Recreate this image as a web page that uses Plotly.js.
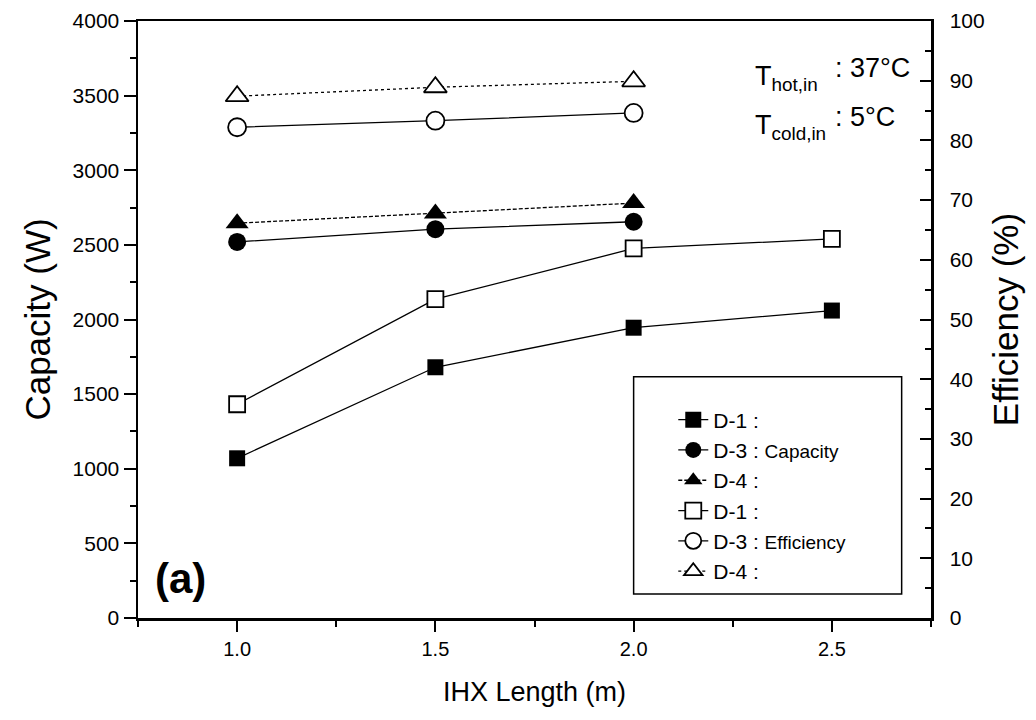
<!DOCTYPE html>
<html>
<head>
<meta charset="utf-8">
<script src="https://cdn.plot.ly/plotly-3.0.1.min.js"></script>
<style>
  html, body { margin: 0; padding: 0; background: #ffffff; }
  #chart { width: 1036px; height: 720px; }
</style>
</head>
<body>
<div id="chart"></div>
<script>
// IHX length (m)
const ihxLength = [1.0, 1.5, 2.0, 2.5];
const ihxLengthShort = [1.0, 1.5, 2.0];

// Capacity (W), left axis
const capacityD1 = [1070, 1680, 1945, 2060];
const capacityD3 = [2520, 2605, 2655];
const capacityD4 = [2645, 2710, 2780];

// Efficiency (%), right axis
const efficiencyD1 = [35.8, 53.4, 61.9, 63.5];
const efficiencyD3 = [82.2, 83.3, 84.6];
const efficiencyD4 = [87.4, 88.9, 89.9];

const xTickVals = [1.0, 1.5, 2.0, 2.5];
const xTickText = ['1.0', '1.5', '2.0', '2.5'];

const FONT = 'Liberation Sans, Arial, Helvetica, sans-serif';
const INK = '#000000';

function series(x, y, name, symbol, filled, dash, axis, size) {
  return {
    type: 'scatter',
    mode: 'lines+markers',
    x: x,
    y: y,
    name: name,
    yaxis: axis,
    line: { color: INK, width: 1.3, dash: dash },
    marker: {
      symbol: symbol,
      size: size,
      color: filled ? INK : '#ffffff',
      line: { color: INK, width: filled ? 0 : 1.8 }
    },
    cliponaxis: false
  };
}

const capLbl = "<span style='font-size:19px'>Capacity</span>";
const effLbl = "<span style='font-size:19px'>Efficiency</span>";

const traces = [
  series(ihxLength, capacityD1, 'D-1 :', 'square', true, 'solid', 'y', 16),
  series(ihxLengthShort, capacityD3, 'D-3 : ' + capLbl, 'circle', true, 'solid', 'y', 18),
  series(ihxLengthShort, capacityD4, 'D-4 :', 'triangle-up', true, '4px,2px', 'y', 20),
  series(ihxLength, efficiencyD1, 'D-1 :', 'square', false, 'solid', 'y2', 16),
  series(ihxLengthShort, efficiencyD3, 'D-3 : ' + effLbl, 'circle', false, 'solid', 'y2', 18),
  series(ihxLengthShort, efficiencyD4, 'D-4 :', 'triangle-up', false, 'dot', 'y2', 20)
];

const layout = {
  width: 1036,
  height: 720,
  margin: { l: 138, r: 105, t: 21, b: 102 },
  paper_bgcolor: '#ffffff',
  plot_bgcolor: '#ffffff',
  font: { family: FONT, color: INK, size: 20 },
  showlegend: true,
  legend: {
    x: 0.675, y: 0.366, xanchor: 'left', yanchor: 'top',
    bgcolor: 'rgba(0,0,0,0)',
    borderwidth: 0,
    font: { family: FONT, size: 21, color: INK },
    tracegroupgap: 0
  },
  xaxis: {
    range: [0.75, 2.75],
    tickvals: xTickVals,
    ticktext: xTickText,
    ticks: 'outside', ticklen: 11, tickwidth: 2, tickcolor: INK,
    minor: { dtick: 0.25, ticks: 'outside', ticklen: 6, tickwidth: 2, tickcolor: INK },
    showline: true, linecolor: INK, linewidth: 2.5, mirror: true,
    showgrid: false, zeroline: false,
    tickfont: { size: 20, family: FONT },
    title: { text: 'IHX Length (m)', font: { size: 27, family: FONT }, standoff: 24 }
  },
  yaxis: {
    range: [0, 4000],
    dtick: 500,
    ticks: 'outside', ticklen: 12, tickwidth: 2, tickcolor: INK,
    minor: { dtick: 250, ticks: 'outside', ticklen: 6, tickwidth: 2, tickcolor: INK },
    showline: true, linecolor: INK, linewidth: 2.5, mirror: false,
    showgrid: false, zeroline: false,
    tickfont: { size: 21, family: FONT },
    title: { text: 'Capacity (W)', font: { size: 35, family: FONT }, standoff: 12 }
  },
  yaxis2: {
    range: [0, 100],
    dtick: 10,
    overlaying: 'y',
    side: 'right',
    ticks: 'inside', ticklen: 11, tickwidth: 2, tickcolor: INK,
    minor: { dtick: 5, ticks: 'inside', ticklen: 6, tickwidth: 2, tickcolor: INK },
    showline: true, linecolor: INK, linewidth: 2.5,
    showgrid: false, zeroline: false,
    ticklabelstandoff: 12,
    tickfont: { size: 21, family: FONT },
    title: { text: 'Efficiency (%)', font: { size: 35, family: FONT }, standoff: 10 }
  },
  shapes: [
    {
      type: 'rect', xref: 'paper', yref: 'paper',
      x0: 0.625, x1: 0.963, y0: 0.040, y1: 0.404,
      line: { color: INK, width: 1.5 }, fillcolor: 'rgba(0,0,0,0)'
    }
  ],
  annotations: [
    {
      text: '<b>(a)</b>', xref: 'paper', yref: 'paper',
      x: 0.054, y: 0.067, xanchor: 'center', yanchor: 'middle',
      showarrow: false, font: { size: 42, family: FONT, color: INK }
    },
    {
      text: 'T<sub>hot,in</sub>', xref: 'paper', yref: 'paper',
      x: 0.776, y: 0.905, xanchor: 'left', yanchor: 'middle',
      showarrow: false, font: { size: 27, family: FONT, color: INK }
    },
    {
      text: ': 37\u00B0C', xref: 'paper', yref: 'paper',
      x: 0.877, y: 0.922, xanchor: 'left', yanchor: 'middle',
      showarrow: false, font: { size: 27, family: FONT, color: INK }
    },
    {
      text: 'T<sub>cold,in</sub>', xref: 'paper', yref: 'paper',
      x: 0.776, y: 0.822, xanchor: 'left', yanchor: 'middle',
      showarrow: false, font: { size: 27, family: FONT, color: INK }
    },
    {
      text: ': 5\u00B0C', xref: 'paper', yref: 'paper',
      x: 0.877, y: 0.839, xanchor: 'left', yanchor: 'middle',
      showarrow: false, font: { size: 27, family: FONT, color: INK }
    }
  ]
};

Plotly.newPlot('chart', traces, layout, { displayModeBar: false, staticPlot: true });
</script>
</body>
</html>
